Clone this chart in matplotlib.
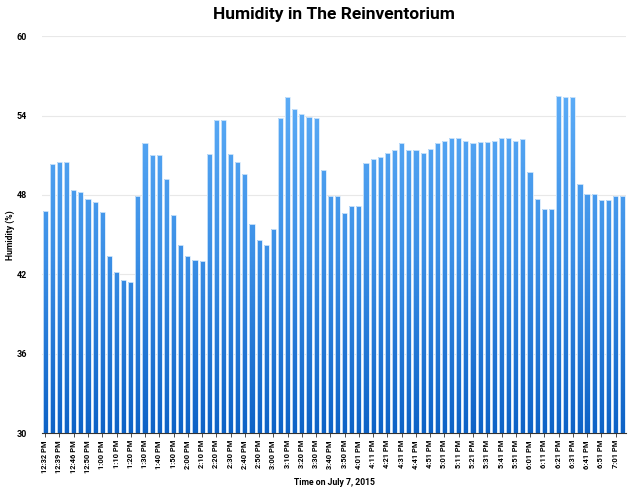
import matplotlib.pyplot as plt
import numpy as np
from matplotlib.path import Path
from matplotlib.patches import PathPatch
from matplotlib.colors import LinearSegmentedColormap

# Time labels (every other reading is labelled)
tick_labels = ['12:32 PM', '12:39 PM', '12:46 PM', '12:50 PM', '1:00 PM', '1:10 PM',
               '1:20 PM', '1:30 PM', '1:40 PM', '1:50 PM', '2:00 PM', '2:10 PM',
               '2:20 PM', '2:30 PM', '2:40 PM', '2:50 PM', '3:00 PM', '3:10 PM',
               '3:20 PM', '3:30 PM', '3:40 PM', '3:50 PM', '4:01 PM', '4:11 PM',
               '4:21 PM', '4:31 PM', '4:41 PM', '4:51 PM', '5:01 PM', '5:11 PM',
               '5:21 PM', '5:31 PM', '5:41 PM', '5:51 PM', '6:01 PM', '6:11 PM',
               '6:21 PM', '6:31 PM', '6:41 PM', '6:51 PM', '7:01 PM']

# Humidity readings (%)
humidity = [46.8, 50.3, 50.5, 50.5, 48.4, 48.2, 47.7, 47.5, 46.7, 43.4,
            42.2, 41.6, 41.4, 47.9, 51.9, 51.0, 51.0, 49.2, 46.5, 44.2,
            43.4, 43.1, 43.0, 51.1, 53.7, 53.7, 51.1, 50.5, 49.6, 45.8,
            44.6, 44.2, 45.4, 53.8, 55.4, 54.5, 54.1, 53.9, 53.8, 49.9,
            47.9, 47.9, 46.6, 47.2, 47.2, 50.4, 50.7, 50.9, 51.2, 51.4,
            51.9, 51.4, 51.4, 51.2, 51.5, 51.9, 52.1, 52.3, 52.3, 52.1,
            51.9, 52.0, 52.0, 52.1, 52.3, 52.3, 52.1, 52.2, 49.7, 47.7,
            46.9, 46.9, 55.5, 55.4, 55.4, 48.8, 48.1, 48.1, 47.6, 47.6,
            47.9, 47.9]

plt.rcParams['font.family'] = ['Roboto', 'DejaVu Sans']

fig = plt.figure(figsize=(6.4, 4.95), dpi=100)
ax = fig.add_axes([0.066, 0.125, 0.912, 0.802])

x = np.arange(len(humidity))
bars = ax.bar(x, humidity, width=0.72, bottom=0, color='none',
              edgecolor='#d6e9fb', linewidth=0.6, zorder=3)

# gradient fill clipped to the bars
paths = []
for b in bars:
    paths.append(b.get_path().transformed(b.get_patch_transform()))
clip = PathPatch(Path.make_compound_path(*paths), transform=ax.transData,
                 facecolor='none', edgecolor='none')
ax.add_patch(clip)
cmap = LinearSegmentedColormap.from_list('blu', ['#0d62c6', '#3b8fe6', '#5eaef8'])
grad = np.linspace(0, 1, 256).reshape(-1, 1)
im = ax.imshow(grad, cmap=cmap, origin='lower', aspect='auto',
               extent=[-0.5, len(humidity), 30, 56.5], zorder=2)
im.set_clip_path(clip)
ax.set_xlim(-0.42, len(humidity) - 0.55)
ax.set_ylim(30, 60)

ax.set_yticks([30, 36, 42, 48, 54, 60])
ax.set_yticklabels(['30', '36', '42', '48', '54', '60'], fontsize=6.5, fontweight='bold')
ax.set_xticks(x[::2])
ax.set_xticklabels(tick_labels, rotation=90, fontsize=5.4, fontweight='bold')
ax.tick_params(axis='y', length=0, pad=11)
ax.tick_params(axis='x', length=3, width=0.6, color='#333333', pad=2)

ax.grid(axis='y', color='#e8e8e8', linewidth=0.8, zorder=0)
ax.set_axisbelow(True)
for s in ['top', 'right', 'left']:
    ax.spines[s].set_visible(False)
ax.spines['bottom'].set_color('#333333')
ax.spines['bottom'].set_linewidth(0.8)

ax.set_title('Humidity in The Reinventorium', fontsize=12.5, fontweight='bold', pad=12)
ax.set_ylabel('Humidity (%)', fontsize=6.2, fontweight='bold')
ax.yaxis.set_label_coords(-0.046, 0.5)
ax.set_xlabel('Time on July 7, 2015', fontsize=6.2, fontweight='bold')
ax.xaxis.set_label_coords(0.5, -0.113)

fig.savefig('out.png', dpi=100)
